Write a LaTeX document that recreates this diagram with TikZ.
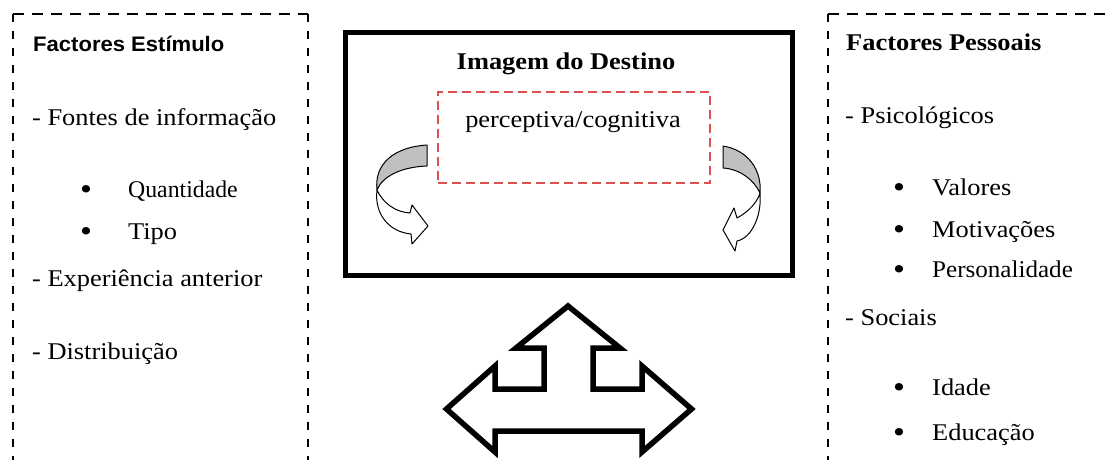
\documentclass[tikz,border=0pt]{standalone}
\usepackage{fontspec}
\setmainfont{Liberation Serif}[FakeStretch=1.1]
\newfontfamily\headsans{Liberation Sans}[FakeStretch=1.05]
\definecolor{reddash}{RGB}{220,80,80}
\definecolor{bandgray}{RGB}{192,192,192}
\begin{document}
\begin{tikzpicture}[x=1pt,y=-1pt,
  txt/.style={anchor=base west, inner sep=0pt, font=\fontsize{24}{28}\selectfont},
  bul/.style={anchor=base, inner sep=0pt, font=\fontsize{31}{34}\selectfont},
  hdsans/.style={anchor=base west, inner sep=0pt, font=\headsans\bfseries\fontsize{21}{24}\selectfont},
  hdserif/.style={inner sep=0pt, font=\bfseries\fontsize{24}{28}\selectfont},
  dashH/.style={line width=1.4pt, dash pattern=on 11pt off 8pt},
  dashV/.style={line width=1.4pt, dash pattern=on 8pt off 9pt},
  redbox/.style={draw=reddash, line width=1.5pt, dash pattern=on 9pt off 5pt, inner sep=0pt},
  mainbox/.style={draw, line width=5pt, inner sep=0pt},
  band/.style={fill=bandgray, draw, line width=1pt, line join=round},
  curvehead/.style={fill=white, draw, line width=1pt, line join=round},
  bigarrow/.style={draw, line width=5.5pt, line join=miter, miter limit=10}
]
\clip (0,0) rectangle (1107,459);
\fill[white] (0,0) rectangle (1107,459);

% dashed frames
\coordinate (LTL) at (13,14);
\coordinate (LTR) at (308,14);
\coordinate (LBL) at (13,470);
\coordinate (LBR) at (308,470);
\draw[dashH] (LTL) -- (LTR);
\draw[dashV] (LTL) -- (LBL);
\draw[dashV] (LTR) -- (LBR);
\coordinate (RTL) at (828,14);
\coordinate (RTR) at (1115,14);
\coordinate (RBL) at (828,470);
\draw[dashH] (RTL) -- (RTR);
\draw[dashV] (RTL) -- (RBL);

% left column
\node[hdsans] (fe) at (33,51) {Factores Estímulo};
\node[txt] (fi) at (32,125) {- Fontes de informação};
\node[bul] (b1) at (86,199) {•};
\node[txt] (qt) at (128,197) {\scalebox{0.9}[1]{Quantidade}};
\node[bul] (b2) at (86,241) {•};
\node[txt] (tp) at (128,239) {Tipo};
\node[txt] (ea) at (32,286) {- Experiência anterior};
\node[txt] (ds) at (32,359) {- Distribuição};

% right column
\node[hdserif, anchor=base west] (fp) at (846,50) {Factores Pessoais};
\node[txt] (ps) at (845,123) {- Psicológicos};
\node[bul] (b3) at (899,197) {•};
\node[txt] (vl) at (932,195) {Valores};
\node[bul] (b4) at (899,239) {•};
\node[txt] (mt) at (932,237) {Motivações};
\node[bul] (b5) at (899,279) {•};
\node[txt] (pe) at (932,277) {\scalebox{0.95}[1]{Personalidade}};
\node[txt] (so) at (845,325) {- Sociais};
\node[bul] (b6) at (899,397) {•};
\node[txt] (id) at (932,395) {Idade};
\node[bul] (b7) at (899,442) {•};
\node[txt] (ed) at (932,440) {Educação};

% centre box
\node[mainbox, minimum width=447pt, minimum height=243.5pt] (img) at (569,153.75) {};
\node[hdserif, anchor=base] (ttl) at (566,69) {Imagem do Destino};
\node[redbox, minimum width=272pt, minimum height=91pt] (pc) at (574,137.5) {};
\node[txt, anchor=base] (pct) at (573,127) {perceptiva/cognitiva};

% left curved arrow
\coordinate (JL) at (377,190);
\draw[band] (JL) .. controls (374,163) and (395,147) .. (427,145) -- (427,166)
  .. controls (400,167) and (382,177) .. (JL) -- cycle;
\draw[curvehead] (JL) .. controls (374,215) and (390,232) .. (411,234) -- (412,244)
  -- (428,226) -- (412,205) -- (410,213) .. controls (395,212) and (383,203) .. (JL) -- cycle;

% right curved arrow
\coordinate (JR) at (760,193);
\draw[band] (723,146) .. controls (748,150) and (762,170) .. (JR)
  .. controls (754,180) and (740,169) .. (723,168) -- cycle;
\draw[curvehead] (JR) .. controls (762,215) and (752,238) .. (737,241) -- (735,251)
  -- (723,230) -- (734,208) -- (737,218) .. controls (748,212) and (757,203) .. (JR) -- cycle;

% three-way block arrow
\draw[bigarrow] (568,306) -- (620,348) -- (593,348) -- (593,389) -- (642,389)
  -- (642,366) -- (691.5,409) -- (642,452) -- (642,431) -- (495,431) -- (495,452)
  -- (446.5,409) -- (495,366) -- (495,389) -- (544,389) -- (544,348) -- (516,348) -- cycle;
\end{tikzpicture}
\end{document}
